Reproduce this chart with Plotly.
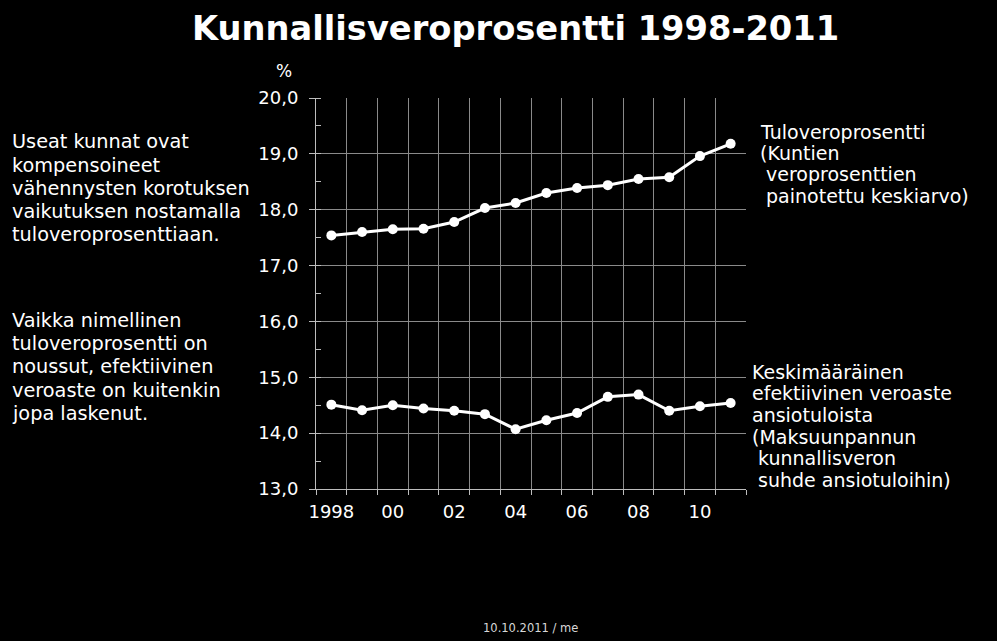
import plotly.graph_objects as go

years = list(range(1998, 2012))
tuloveroprosentti = [17.54, 17.60, 17.65, 17.66, 17.78, 18.03, 18.12, 18.30, 18.39, 18.44, 18.55, 18.58, 18.96, 19.18]
efektiivinen = [14.51, 14.41, 14.50, 14.44, 14.40, 14.34, 14.07, 14.23, 14.36, 14.65, 14.69, 14.40, 14.48, 14.54]
x_tickvals = [1998, 2000, 2002, 2004, 2006, 2008, 2010]
x_ticktext = ["1998", "00", "02", "04", "06", "08", "10"]
y_tickvals = [13, 14, 15, 16, 17, 18, 19, 20]
y_ticktext = ["13,0", "14,0", "15,0", "16,0", "17,0", "18,0", "19,0", "20,0"]

title_text = "Kunnallisveroprosentti 1998-2011"
left_block1 = ["Useat kunnat ovat", "kompensoineet", "vähennysten korotuksen",
               "vaikutuksen nostamalla", "tuloveroprosenttiaan."]
left_block2 = ["Vaikka nimellinen", "tuloveroprosentti on", "noussut, efektiivinen",
               "veroaste on kuitenkin", "jopa laskenut."]
right_block1 = ["Tuloveroprosentti", "(Kuntien", "\u00a0veroprosenttien",
                "\u00a0painotettu keskiarvo)"]
right_block2 = ["Keskimääräinen", "efektiivinen veroaste", "ansiotuloista",
                "(Maksuunpannun", "\u00a0kunnallisveron", "\u00a0suhde ansiotuloihin)"]
footer = "10.10.2011 / me"

W, H = 997, 641
L, R, T, B = 316, 251, 98, 152
PW, PH = W - L - R, H - T - B

def px(x):
    return (x - L) / PW

def py(y):
    return 1 - (y - T) / PH

FONT = "DejaVu Sans"
GRID = "#8a8a8a"
AXIS = "#bdbdbd"

fig = go.Figure()
for vals in (tuloveroprosentti, efektiivinen):
    fig.add_trace(go.Scatter(
        x=years, y=vals, mode="lines+markers",
        line=dict(color="white", width=3),
        marker=dict(color="white", size=10),
        showlegend=False, hoverinfo="skip"))

fig.update_layout(
    width=W, height=H,
    margin=dict(l=L, r=R, t=T, b=B),
    paper_bgcolor="black", plot_bgcolor="black",
    font=dict(family=FONT, color="white", size=17),
    xaxis=dict(
        range=[1997.5, 2011.5], tickvals=x_tickvals, ticktext=x_ticktext,
        showgrid=False, ticks="", showline=True, linecolor=AXIS, linewidth=1,
        zeroline=False, tickfont=dict(size=18, color="white"), ticklabelstandoff=6,
        minor=dict(tick0=1997.5, dtick=1, showgrid=True, gridcolor=GRID,
                   gridwidth=1, ticks="outside", ticklen=5, tickcolor=AXIS),
    ),
    yaxis=dict(
        range=[13, 20], tickvals=y_tickvals, ticktext=y_ticktext,
        showgrid=True, gridcolor=GRID, gridwidth=1,
        ticks="outside", ticklen=6, tickcolor=AXIS, ticklabelstandoff=7,
        showline=True, linecolor=AXIS, linewidth=1, zeroline=False,
        tickfont=dict(size=18, color="white"),
        minor=dict(tick0=13, dtick=0.5, ticks="inside", ticklen=5, tickcolor=AXIS, showgrid=False),
    ),
)

def ann(x, y, text, size=19, xanchor="left", yanchor="middle", bold=False, color="white"):
    fig.add_annotation(
        xref="paper", yref="paper", x=px(x), y=py(y), text=text,
        showarrow=False, xanchor=xanchor, yanchor=yanchor,
        font=dict(family=FONT, size=size, color=color,
                  weight="bold" if bold else "normal"))

ann(515, 29, title_text, size=33.7, xanchor="center", bold=True)
ann(284, 71, "%", size=17, xanchor="center")

def block(x, baselines, lines, size=19.3):
    for b, t in zip(baselines, lines):
        ann(x, b - 5, t, size=size)

block(10, [146.7, 170, 193.3, 216.7, 240], left_block1)
block(10, [325, 348.3, 371.7, 395, 418.3], left_block2)
block(758, [136.7, 158, 179.3, 200.7], right_block1, size=19)
block(750, [376.7, 398.3, 420, 441.7, 463.3, 485], right_block2, size=19)
ann(530, 628, footer, size=11.5, xanchor="center", color="#d8d8d8")

fig.write_html("out.html", config={"displayModeBar": False},
               post_script="document.body.style.margin='0';document.body.style.background='black';")
